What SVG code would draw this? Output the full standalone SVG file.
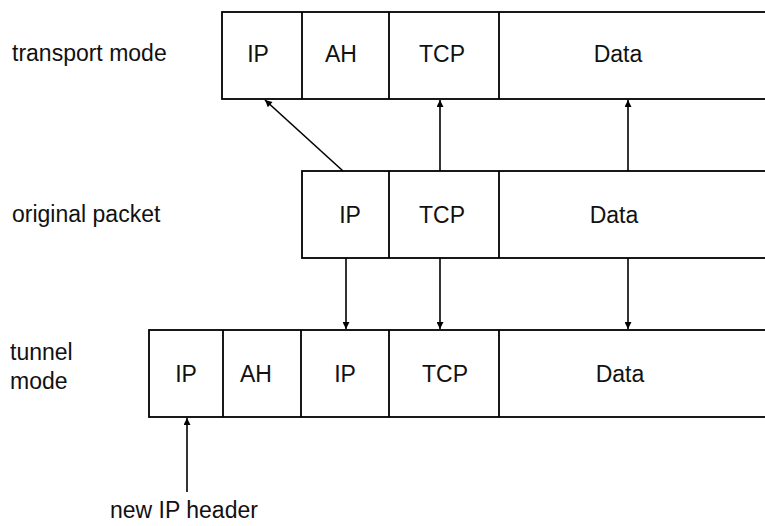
<svg xmlns="http://www.w3.org/2000/svg" width="765" height="526" viewBox="0 0 765 526">
  <style>
    .box { fill: #ffffff; stroke: #000000; stroke-width: 1.8; }
    .div { stroke: #000000; stroke-width: 1.8; }
    .lbl { font-family: "Liberation Sans", Arial, sans-serif; font-size: 23px; fill: #111111; }
    .cell { font-family: "Liberation Sans", Arial, sans-serif; font-size: 23px; fill: #111111; text-anchor: middle; }
    .conn { stroke: #000000; stroke-width: 1.6; fill: none; marker-end: url(#arrow); }
  </style>
  <defs>
    <marker id="arrow" viewBox="0 0 10 10" refX="10" refY="5" markerWidth="10" markerHeight="7" markerUnits="userSpaceOnUse" orient="auto">
      <path d="M0,0 L10,5 L0,10 Z" fill="#000000"/>
    </marker>
  </defs>
  <rect width="765" height="526" fill="#ffffff"/>

  <g id="label-transport">
    <text class="lbl" x="12" y="61">transport mode</text>
  </g>
  <g id="label-original">
    <text class="lbl" x="12" y="222">original packet</text>
  </g>
  <g id="label-tunnel">
    <text class="lbl" x="10" y="360">tunnel</text>
    <text class="lbl" x="10" y="389">mode</text>
  </g>
  <g id="label-newip">
    <text class="lbl" x="110" y="518">new IP header</text>
  </g>

  <g id="transport-packet">
    <rect class="box" x="222" y="12" width="560" height="87"/>
    <line class="div" x1="302" y1="12" x2="302" y2="99"/>
    <line class="div" x1="389" y1="12" x2="389" y2="99"/>
    <line class="div" x1="499" y1="12" x2="499" y2="99"/>
    <text class="cell" x="258" y="62">IP</text>
    <text class="cell" x="341" y="62">AH</text>
    <text class="cell" x="442" y="62">TCP</text>
    <text class="cell" x="618" y="62">Data</text>
  </g>

  <g id="original-packet">
    <rect class="box" x="302" y="171" width="480" height="87"/>
    <line class="div" x1="389" y1="171" x2="389" y2="258"/>
    <line class="div" x1="499" y1="171" x2="499" y2="258"/>
    <text class="cell" x="350" y="223">IP</text>
    <text class="cell" x="442" y="223">TCP</text>
    <text class="cell" x="614" y="223">Data</text>
  </g>

  <g id="tunnel-packet">
    <rect class="box" x="149" y="330" width="633" height="87"/>
    <line class="div" x1="223" y1="330" x2="223" y2="417"/>
    <line class="div" x1="301" y1="330" x2="301" y2="417"/>
    <line class="div" x1="389" y1="330" x2="389" y2="417"/>
    <line class="div" x1="499" y1="330" x2="499" y2="417"/>
    <text class="cell" x="186" y="382">IP</text>
    <text class="cell" x="256" y="382">AH</text>
    <text class="cell" x="345" y="382">IP</text>
    <text class="cell" x="445" y="382">TCP</text>
    <text class="cell" x="620" y="382">Data</text>
  </g>

  <g id="connectors">
    <line class="conn" x1="343" y1="171" x2="265" y2="100"/>
    <line class="conn" x1="440" y1="171" x2="440" y2="100"/>
    <line class="conn" x1="628" y1="171" x2="628" y2="100"/>
    <line class="conn" x1="346" y1="258" x2="346" y2="329"/>
    <line class="conn" x1="440" y1="258" x2="440" y2="329"/>
    <line class="conn" x1="628" y1="258" x2="628" y2="329"/>
    <line class="conn" x1="187" y1="492" x2="187" y2="418"/>
  </g>
</svg>
